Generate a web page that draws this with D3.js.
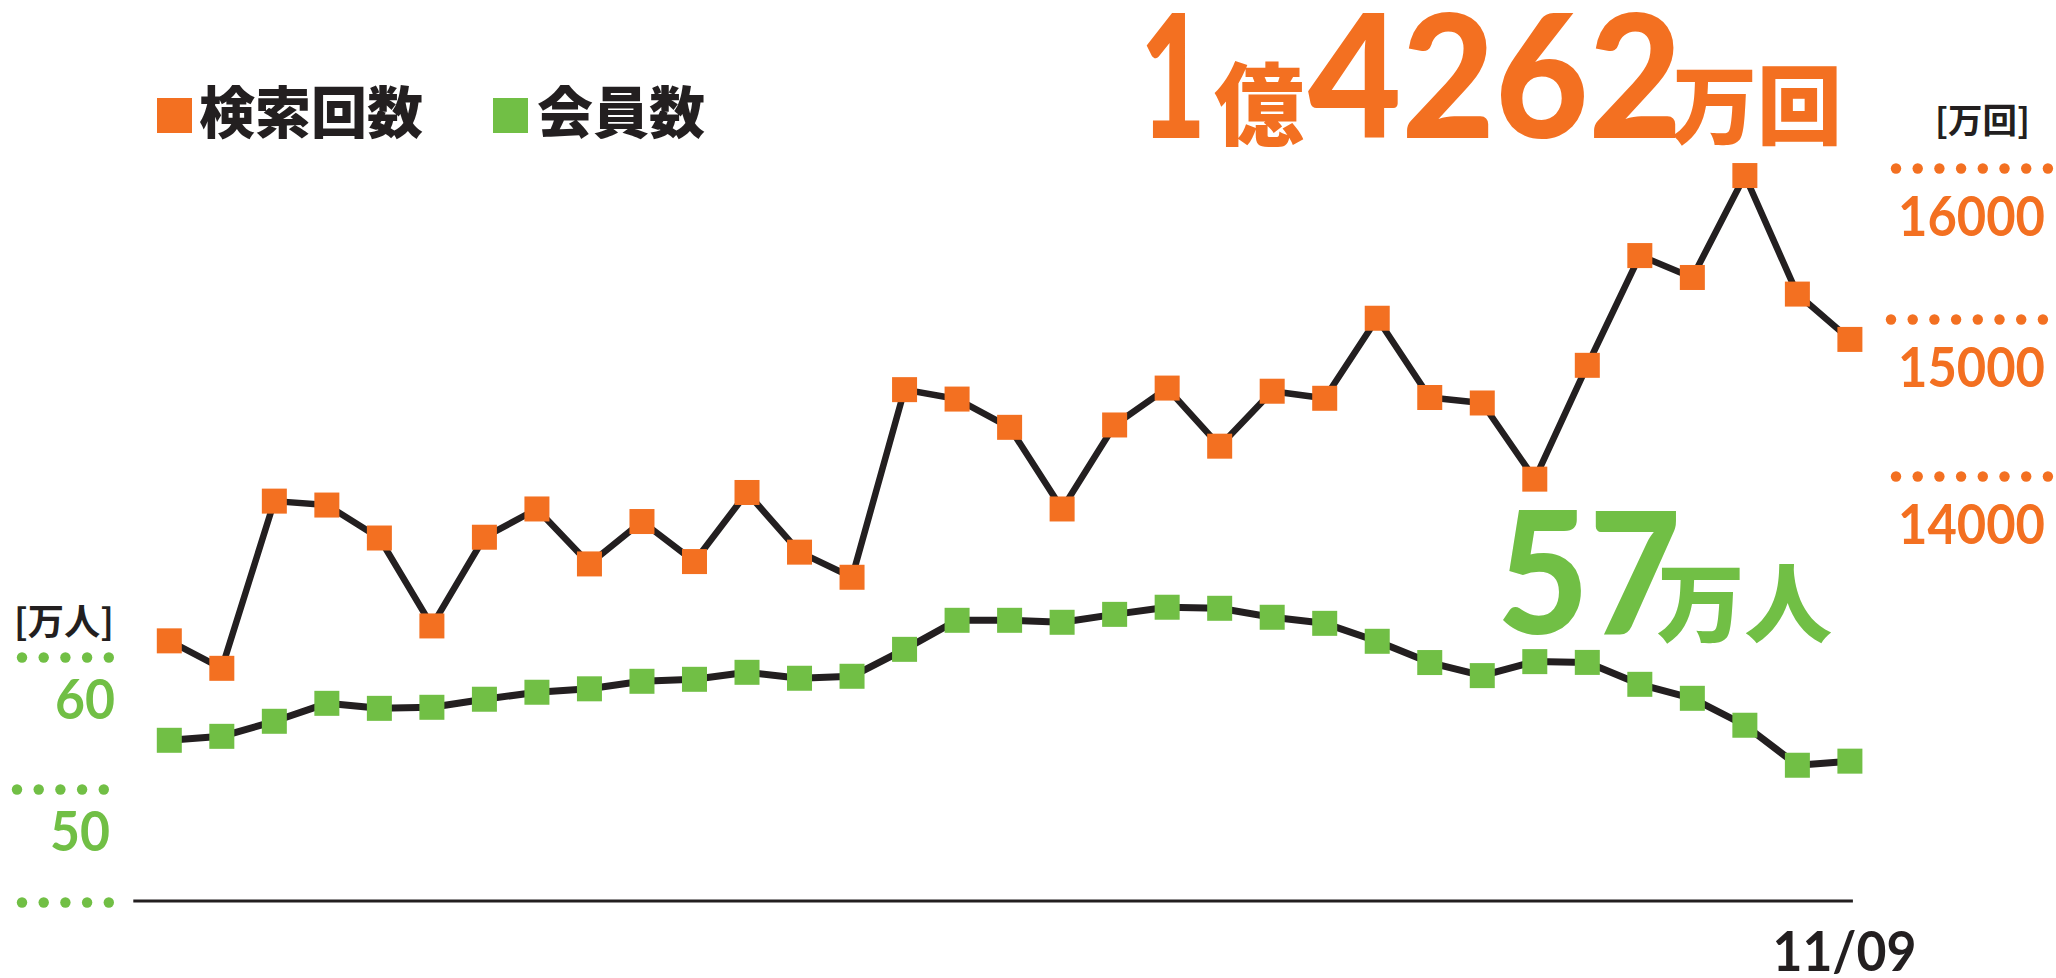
<!DOCTYPE html>
<html>
<head>
<meta charset="utf-8">
<script src="https://cdn.jsdelivr.net/npm/d3@7"></script>
<style>
html,body{margin:0;padding:0;background:#fff;}
svg{display:block;}
</style>
</head>
<body>
<svg id="chart" width="2056" height="978"></svg>
<script>
// ---- data ----
const categories = [1,2,3,4,5,6,7,8,9,10,11,12,13,14,15,16,17,18,19,20,21,22,23,24,25,26,27,28,29,30,31,32,33];
const xTickLabels = {33: "11/09"};
// 検索回数 [万回]
const searchCounts = [12950, 12775, 13840, 13815, 13605, 13045, 13610, 13790, 13440, 13710, 13455, 13895, 13515, 13355, 14550, 14490, 14310, 13790, 14325, 14560, 14190, 14540, 14495, 15005, 14500, 14465, 13980, 14705, 15420, 15275, 15950, 15165, 14870];
// 会員数 [万人]
const members = [53.69, 53.99, 55.13, 56.49, 56.11, 56.19, 56.80, 57.33, 57.59, 58.16, 58.31, 58.84, 58.39, 58.54, 60.58, 62.78, 62.78, 62.63, 63.23, 63.77, 63.69, 63.01, 62.55, 61.19, 59.58, 58.59, 59.65, 59.59, 57.93, 56.87, 54.83, 51.80, 52.11];
const rightTicks = [16000, 15000, 14000];
const leftTicks = [60, 50, 40];
const leftTickLabels = {60: "60", 50: "50", 40: ""};
const seriesNames = ["検索回数", "会員数"];
const rightUnit = "[万回]";
const leftUnit = "[万人]";
const searchHeadline = {a: "1", b: "億", c: "4262", d: "万回"};
const memberHeadline = {a: "57", b: "万人"};

// ---- styles ----
const ORANGE = "#F37021", GREEN = "#71BF45", INK = "#231F20";
const NUM_FONT = "Lato, 'Open Sans', sans-serif";
const CJK_FONT = "'Noto Sans CJK JP', 'Noto Sans CJK SC', sans-serif";
const DOT_GAP = 21.7, DOT_R = 5.2;

const svg = d3.select("#chart");

// ---- scales ----
const x = d3.scalePoint().domain(categories).range([169.3, 1849.9]);
const yR = d3.scaleLinear().domain([14000, 15000, 16000]).range([476, 319, 168]);
const yL = d3.scaleLinear().domain([40, 50, 60]).range([902, 789, 657]);

function dotRow(sel, startX, n, color) {
  sel.selectAll("circle.dot").data(d3.range(n)).join("circle")
    .attr("class", "dot")
    .attr("cx", k => startX + k * DOT_GAP).attr("cy", 0)
    .attr("r", DOT_R).attr("fill", color);
}

// ---- right axis (検索回数) ----
const gR = svg.append("g").attr("transform", "translate(2045,0)")
  .call(d3.axisLeft(yR).tickValues(rightTicks).tickSize(0).tickFormat(d3.format("d")));
gR.select(".domain").remove();
gR.selectAll(".tick line").remove();
gR.selectAll(".tick").each(function(d) {
  dotRow(d3.select(this), d === 15000 ? -154 : -149, 8, ORANGE);
});
gR.selectAll(".tick text")
  .attr("x", 0).attr("dy", null).attr("y", 67)
  .attr("text-anchor", "end")
  .attr("fill", ORANGE).attr("font-family", NUM_FONT).attr("font-weight", 700)
  .attr("font-size", 56).attr("textLength", 147).attr("lengthAdjust", "spacingAndGlyphs");
svg.append("text").text(rightUnit)
  .attr("x", 1935).attr("y", 133).attr("font-family", CJK_FONT).attr("font-weight", 700)
  .attr("font-size", 34).attr("fill", INK).attr("textLength", 95).attr("lengthAdjust", "spacingAndGlyphs");

// ---- left axis (会員数) ----
const gL = svg.append("g").attr("transform", "translate(113,0)")
  .call(d3.axisLeft(yL).tickValues(leftTicks).tickSize(0).tickFormat(d => leftTickLabels[d]));
gL.select(".domain").remove();
gL.selectAll(".tick line").remove();
gL.selectAll(".tick").each(function(d) {
  dotRow(d3.select(this), d === 50 ? -96 : -91, 5, GREEN);
});
gL.selectAll(".tick text")
  .attr("x", d => d === 50 ? -3 : 2).attr("dy", null).attr("y", 61.5)
  .attr("text-anchor", "end")
  .attr("fill", GREEN).attr("font-family", NUM_FONT).attr("font-weight", 700)
  .attr("font-size", 56).attr("textLength", 60).attr("lengthAdjust", "spacingAndGlyphs");
svg.append("text").text(leftUnit)
  .attr("x", 14).attr("y", 635).attr("font-family", CJK_FONT).attr("font-weight", 700)
  .attr("font-size", 36).attr("fill", INK).attr("textLength", 100).attr("lengthAdjust", "spacingAndGlyphs");

// ---- x axis ----
const first = categories[0], last = categories[categories.length - 1];
svg.append("line")
  .attr("x1", x(first) - 36).attr("x2", x(last) + 3)
  .attr("y1", 901).attr("y2", 901)
  .attr("stroke", INK).attr("stroke-width", 3);
const gX = svg.append("g").attr("transform", "translate(0,901)")
  .call(d3.axisBottom(x).tickValues([last]).tickSize(0).tickFormat(d => xTickLabels[d]));
gX.select(".domain").remove();
gX.selectAll(".tick text")
  .attr("x", -6).attr("y", 70).attr("dy", null)
  .attr("text-anchor", "middle")
  .attr("fill", INK).attr("font-family", NUM_FONT).attr("font-weight", 700)
  .attr("font-size", 56).attr("textLength", 144).attr("lengthAdjust", "spacingAndGlyphs");

// ---- lines ----
const lineR = d3.line().x((d, i) => x(categories[i])).y(d => yR(d));
const lineL = d3.line().x((d, i) => x(categories[i])).y(d => yL(d));
svg.append("path").datum(members).attr("d", lineL)
  .attr("fill", "none").attr("stroke", INK).attr("stroke-width", 7).attr("stroke-linejoin", "round");
svg.append("path").datum(searchCounts).attr("d", lineR)
  .attr("fill", "none").attr("stroke", INK).attr("stroke-width", 6.5).attr("stroke-linejoin", "round");

const M = 25;
svg.append("g").selectAll("rect").data(members).join("rect")
  .attr("x", (d, i) => x(categories[i]) - M / 2).attr("y", d => yL(d) - M / 2)
  .attr("width", M).attr("height", M).attr("fill", GREEN);
svg.append("g").selectAll("rect").data(searchCounts).join("rect")
  .attr("x", (d, i) => x(categories[i]) - M / 2).attr("y", d => yR(d) - M / 2)
  .attr("width", M).attr("height", M).attr("fill", ORANGE);

// ---- legend ----
const legend = [
  {name: seriesNames[0], color: ORANGE, sx: 157, tx: 199},
  {name: seriesNames[1], color: GREEN, sx: 493, tx: 537}
];
legend.forEach(l => {
  svg.append("rect").attr("x", l.sx).attr("y", 98).attr("width", 35).attr("height", 35).attr("fill", l.color);
  svg.append("text").text(l.name).attr("x", l.tx).attr("y", 133)
    .attr("font-family", CJK_FONT).attr("font-weight", 900).attr("font-size", 56).attr("fill", INK);
});

// ---- headlines ----
function txt(s, xx, yy, size, font, color, len) {
  const t = svg.append("text").text(s).attr("x", xx).attr("y", yy)
    .attr("font-family", font).attr("font-weight", 900).attr("font-size", size).attr("fill", color);
  if (len) t.attr("textLength", len).attr("lengthAdjust", "spacingAndGlyphs");
  return t;
}
txt(searchHeadline.a, 1140, 138, 172, NUM_FONT, ORANGE, 66);
txt(searchHeadline.b, 1214, 138, 90, CJK_FONT, ORANGE, 90);
txt(searchHeadline.c, 1308, 138, 172, NUM_FONT, ORANGE, 374);
txt(searchHeadline.d, 1672, 138, 86, CJK_FONT, ORANGE, 170);

txt(memberHeadline.a, 1497, 634, 170, NUM_FONT, GREEN, 184);
txt(memberHeadline.b, 1657, 636, 86, CJK_FONT, GREEN, 175);
</script>
</body>
</html>
